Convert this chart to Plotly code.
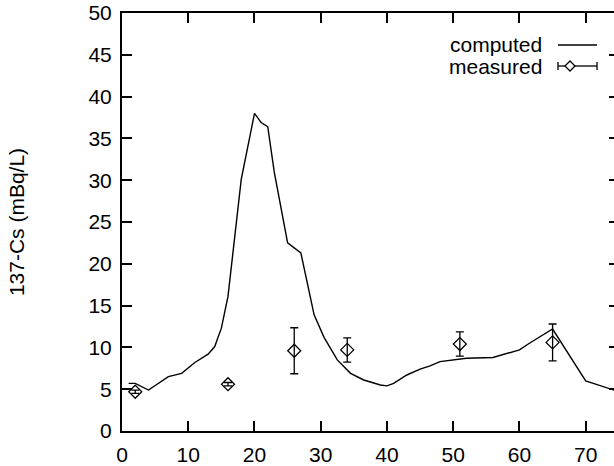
import plotly.graph_objects as go

# computed curve
comp_x = [1, 2, 4, 7, 9, 11, 13, 14, 15, 16, 18, 20, 21, 22, 23, 25, 27, 29,
          30.5, 32.5, 34.5, 36.5, 39, 40, 41, 43, 45, 46.5, 48, 49, 51, 52,
          56, 60, 61.5, 65, 70, 75]
comp_y = [5.7, 5.7, 4.9, 6.5, 6.9, 8.2, 9.2, 10.1, 12.3, 16.1, 30.1, 38.0,
          36.9, 36.4, 30.9, 22.5, 21.3, 13.9, 11.2, 8.5, 6.9, 6.1, 5.5, 5.4,
          5.7, 6.7, 7.4, 7.8, 8.3, 8.4, 8.6, 8.7, 8.8, 9.7, 10.5, 12.2, 6.0, 4.7]

# measured points
meas_x = [2, 16, 26, 34, 51, 65]
meas_y = [4.7, 5.6, 9.6, 9.7, 10.4, 10.6]
meas_err = [0.2, 0.2, 2.75, 1.45, 1.45, 2.2]

y_ticks = [0, 5, 10, 15, 20, 25, 30, 35, 40, 45, 50]
x_ticks = [0, 10, 20, 30, 40, 50, 60, 70]

FONT = "Liberation Sans, Arial, Helvetica, sans-serif"
FS = 21

fig = go.Figure()
fig.add_trace(go.Scatter(x=comp_x, y=comp_y, mode="lines",
                         line=dict(color="black", width=1.4),
                         name="computed", showlegend=False))
fig.add_trace(go.Scatter(x=meas_x, y=meas_y, mode="markers",
                         marker=dict(symbol="diamond-open", size=10,
                                     color="black", line=dict(width=1.3)),
                         error_y=dict(type="data", array=meas_err, visible=True,
                                      color="black", thickness=1.3, width=4),
                         name="measured", showlegend=False))
fig.add_trace(go.Scatter(x=[], y=[], yaxis="y2", showlegend=False))

W, H = 614, 466
ml, mr, mt, mb = 122, 0, 13, 35
pw, ph = W - ml - mr, H - mt - mb

def px2paper(px, py):
    return (px - ml) / pw, (H - mb - py) / ph

# legend drawn manually (gnuplot style: text left, sample right)
tx, ty1 = px2paper(544, 45)
_, ty2 = px2paper(544, 66)
sx0, _ = px2paper(558, 0)
sx1, _ = px2paper(597, 0)
dx, _ = px2paper(570, 0)
hx = 5 / pw
hy = 5 / ph
cy = 4 / ph

annotations = [
    dict(text="computed", x=tx, y=ty1, xref="paper", yref="paper",
         xanchor="right", yanchor="middle", showarrow=False,
         font=dict(size=FS, color="black", family=FONT)),
    dict(text="measured", x=tx, y=ty2, xref="paper", yref="paper",
         xanchor="right", yanchor="middle", showarrow=False,
         font=dict(size=FS, color="black", family=FONT)),
]
lw = dict(color="black", width=1.3)
shapes = [
    dict(type="line", xref="paper", yref="paper", x0=sx0, x1=sx1, y0=ty1, y1=ty1, line=lw),
    dict(type="line", xref="paper", yref="paper", x0=sx0, x1=dx - hx, y0=ty2, y1=ty2, line=lw),
    dict(type="line", xref="paper", yref="paper", x0=dx + hx, x1=sx1, y0=ty2, y1=ty2, line=lw),
    dict(type="line", xref="paper", yref="paper", x0=sx0, x1=sx0, y0=ty2 - cy, y1=ty2 + cy, line=lw),
    dict(type="line", xref="paper", yref="paper", x0=sx1, x1=sx1, y0=ty2 - cy, y1=ty2 + cy, line=lw),
    dict(type="path", xref="paper", yref="paper",
         path=f"M {dx-hx},{ty2} L {dx},{ty2+hy} L {dx+hx},{ty2} L {dx},{ty2-hy} Z",
         line=lw, fillcolor="white"),
]

fig.update_layout(
    width=W, height=H,
    margin=dict(l=ml, r=mr, t=mt, b=mb, pad=0),
    paper_bgcolor="white", plot_bgcolor="white",
    font=dict(family=FONT, size=FS, color="black"),
    showlegend=False,
    annotations=annotations,
    shapes=shapes,
    xaxis=dict(range=[0, 74.27], tickvals=x_ticks, ticks="inside", ticklen=10,
               tickwidth=1.5, tickcolor="black", showline=True, linecolor="black",
               linewidth=2, mirror="ticks", showgrid=False, zeroline=False,
               ticklabelstandoff=4, tickfont=dict(size=FS)),
    yaxis=dict(range=[0, 50], tickvals=y_ticks, ticks="inside", ticklen=10,
               tickwidth=1.5, tickcolor="black", showline=True, linecolor="black",
               linewidth=2, showgrid=False, zeroline=False,
               ticklabelstandoff=4, tickfont=dict(size=FS),
               title=dict(text="137-Cs (mBq/L)", font=dict(size=FS), standoff=58)),
    yaxis2=dict(range=[0, 50], tickvals=y_ticks, overlaying="y", side="right",
                ticks="inside", ticklen=5, tickwidth=1.5, tickcolor="black",
                showticklabels=False, showline=False, showgrid=False, zeroline=False),
)

fig.write_html("out.html", config={"displayModeBar": False},
               post_script="document.body.style.margin='0';document.body.style.overflow='hidden';document.documentElement.style.overflow='hidden';")
